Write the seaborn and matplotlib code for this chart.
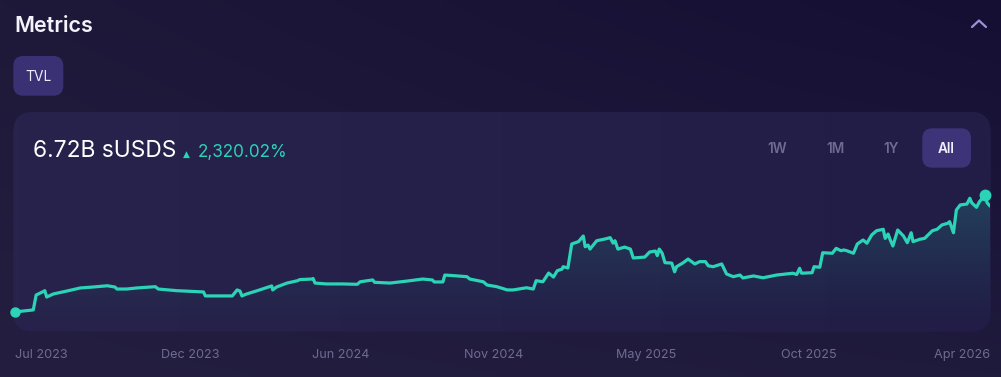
import numpy as np
import pandas as pd
import seaborn as sns
import matplotlib.pyplot as plt
import matplotlib.dates as mdates
from matplotlib.patches import FancyBboxPatch

# ------------------ DATA ------------------
start_date = "2023-07-01"

# days since start_date
day_offsets = [
    0, 19, 22, 29, 31, 33, 40, 54, 68, 81, 96, 104, 106, 116, 127, 146, 149, 168,
    196, 198, 226, 231, 234, 236, 241, 252, 265, 267, 268, 272, 283, 294, 296, 309,
    310, 312, 324, 341, 356, 359, 372, 374, 390, 408, 424, 434, 436, 445, 447, 458,
    470, 473, 487, 491, 501, 512, 518, 532, 539, 542, 549, 555, 560, 564, 569, 570,
    575, 579, 586, 591, 593, 596, 598, 605, 614, 619, 622, 624, 627, 634, 640, 643,
    655, 660, 666, 668, 670, 673, 676, 683, 686, 688, 695, 700, 707, 712, 718, 721,
    726, 735, 740, 747, 754, 757, 768, 778, 792, 809, 813, 816, 818, 829, 831, 837,
    840, 850, 854, 859, 862, 865, 872, 876, 882, 886, 891, 896, 903, 905, 908, 910,
    913, 918, 924, 928, 932, 934, 941, 946, 954, 959, 964, 970, 972, 976, 979, 983,
    990, 993, 995, 1000, 1003, 1009, 1011, 1014,
]

# TVL in billions of sUSDS
tvl_billions = [
    0.28, 0.39, 1.21, 1.39, 1.45, 1.10, 1.27, 1.43, 1.60, 1.65, 1.72, 1.65, 1.54, 1.54,
    1.60, 1.67, 1.54, 1.45, 1.38, 1.16, 1.16, 1.49, 1.43, 1.16, 1.27, 1.45, 1.67, 1.71,
    1.49, 1.65, 1.87, 2.00, 2.06, 2.09, 2.12, 1.87, 1.82, 1.82, 1.80, 1.94, 2.04, 1.91,
    1.87, 1.98, 2.09, 2.04, 1.93, 1.93, 2.31, 2.27, 2.22, 2.09, 1.94, 1.76, 1.67, 1.49,
    1.49, 1.61, 1.54, 2.00, 1.94, 2.42, 2.20, 2.55, 2.64, 2.77, 2.70, 4.02, 4.15, 4.46,
    3.87, 3.96, 3.74, 4.20, 4.30, 4.37, 4.07, 4.20, 3.74, 3.85, 3.74, 3.25, 3.30, 3.58,
    3.63, 3.38, 3.74, 3.52, 2.99, 2.97, 2.49, 2.77, 2.99, 3.19, 2.92, 3.05, 3.05, 2.82,
    2.77, 2.92, 2.37, 2.22, 2.31, 2.15, 2.26, 2.16, 2.31, 2.41, 2.34, 2.68, 2.41, 2.44,
    2.77, 2.74, 3.54, 3.51, 3.78, 3.65, 3.69, 3.65, 3.51, 4.02, 4.24, 4.06, 4.52, 4.75,
    4.83, 4.33, 4.57, 4.28, 3.91, 4.79, 4.46, 4.09, 4.64, 4.15, 4.28, 4.33, 4.75, 4.83,
    5.07, 5.16, 5.25, 4.64, 5.89, 6.17, 6.22, 6.54, 6.29, 6.04, 6.35, 6.72, 6.29, 6.11,
]

tick_dates = ["2023-07-01", "2023-12-30", "2024-06-04", "2024-11-10",
              "2025-04-17", "2025-10-04", "2026-04-10"]
tick_labels = ["Jul 2023", "Dec 2023", "Jun 2024", "Nov 2024",
               "May 2025", "Oct 2025", "Apr 2026"]

title = "Metrics"
metric_tab = "TVL"
headline = "6.72B sUSDS"
change_text = "2,320.02%"
range_buttons = ["1W", "1M", "1Y", "All"]

df = pd.DataFrame({
    "Date": pd.to_datetime(start_date) + pd.to_timedelta(day_offsets, unit="D"),
    "TVL": tvl_billions,
})

# ------------------ STYLE ------------------
TEAL = "#2bd4b6"
CARD = "#24204a"
BUTTON = "#3c3378"
MUTED = "#6f6b91"

sns.set_theme(style="dark")
plt.rcParams['font.family'] = ['Inter', 'DejaVu Sans']

W, H = 1001, 377
fig = plt.figure(figsize=(W / 100, H / 100), dpi=100)
fig.patch.set_facecolor("#1c1739")

# pixel-space background axes for the page / card / buttons
bg = fig.add_axes([0, 0, 1, 1], zorder=0)
bg.axis('off')

corners = np.array([[[30, 25, 57], [21, 15, 52]],
                    [[36, 31, 64], [31, 27, 61]]]) / 255
gy, gx = np.mgrid[0:1:60j, 0:1:160j]
page = ((1 - gy)[..., None] * ((1 - gx)[..., None] * corners[0, 0] + gx[..., None] * corners[0, 1])
        + gy[..., None] * ((1 - gx)[..., None] * corners[1, 0] + gx[..., None] * corners[1, 1]))
bg.imshow(page, extent=[0, W, H, 0], aspect='auto', interpolation='bilinear', zorder=0)

card = FancyBboxPatch((13.3, 112), 977.2, 219.5, boxstyle="round,pad=0,rounding_size=20",
                      facecolor=CARD, edgecolor='none', zorder=1)
bg.add_patch(card)
card_grad = np.linspace(0, 1, 200)[None, :, None]
card_rgb = (1 - card_grad) * np.array([39, 35, 76]) / 255 + card_grad * np.array([33, 29, 70]) / 255
img = bg.imshow(card_rgb, extent=[13.3, 990.5, 331.5, 112], aspect='auto', zorder=1.5)
img.set_clip_path(card)

tab = FancyBboxPatch((13.3, 56), 50, 39.7, boxstyle="round,pad=0,rounding_size=10",
                     facecolor="#3a3174", edgecolor='none', zorder=2)
bg.add_patch(tab)
all_btn = FancyBboxPatch((922.3, 128.3), 48.7, 39.4, boxstyle="round,pad=0,rounding_size=10",
                         facecolor=BUTTON, edgecolor='none', zorder=2)
bg.add_patch(all_btn)

bg.text(14, 31.7, title, fontsize=15.5, fontweight='semibold', color="#f4f3fb",
        ha='left', va='baseline', zorder=3)
bg.text(38.3, 81, metric_tab, fontsize=10, color="#ecebf7", ha='center', va='baseline', zorder=3)
bg.text(33, 156.7, headline, fontsize=16.4, color="#ffffff", ha='left', va='baseline', zorder=3)
bg.text(182.5, 156.5, "▲", fontsize=6.5, color=TEAL, family='DejaVu Sans',
        ha='left', va='baseline', zorder=3)
bg.text(198, 156.7, change_text, fontsize=12.3, color=TEAL, ha='left', va='baseline', zorder=3)

for label, cx in zip(range_buttons, [777.3, 835.7, 890.7, 946.6]):
    bg.text(cx, 152.7, label, fontsize=9.8, fontweight='semibold',
            color="#f2f1fa" if label == "All" else MUTED,
            ha='center', va='baseline', zorder=3)

bg.plot([972, 979, 986], [27, 20.5, 27], color="#9a93d6", lw=1.6, zorder=3)

bg.set_xlim(0, W)
bg.set_ylim(H, 0)

# ------------------ PLOT ------------------
ax = fig.add_axes([15 / W, (H - 330) / H, (990 - 15) / W, 150 / H], zorder=2)
ax.patch.set_alpha(0)

sns.lineplot(data=df, x="Date", y="TVL", ax=ax, color=TEAL, linewidth=2.3, zorder=4)

y0, y1 = -0.716, 7.544
xnum = mdates.date2num(df["Date"])

# soft gradient under the line
poly = ax.fill_between(xnum, df["TVL"], y0, facecolor='none', edgecolor='none')
n = 256
rgba = np.zeros((n, 1, 4))
rgba[..., :3] = np.array([43, 212, 182]) / 255
rgba[..., 3] = np.linspace(0, 0.2, n)[:, None] ** 1.3 / 0.2 ** 0.3
fill = ax.imshow(rgba, extent=[xnum[0], xnum[-1], y0, df["TVL"].max()], origin='lower',
                 aspect='auto', zorder=2)
fill.set_clip_path(poly.get_paths()[0], transform=ax.transData)

# start point and peak marker
peak = df["TVL"].idxmax()
ax.plot(df["Date"].iloc[[0]], df["TVL"].iloc[[0]], 'o', ms=6.5, color=TEAL, clip_on=False, zorder=5)
ax.plot(df["Date"].iloc[[peak]], df["TVL"].iloc[[peak]], 'o', ms=7.5, color=TEAL, clip_on=False, zorder=5)

ax.set_xlim(df["Date"].iloc[0], df["Date"].iloc[-1])
ax.set_ylim(y0, y1)

ax.set_xticks(pd.to_datetime(tick_dates))
ax.set_xticklabels(tick_labels, fontsize=9.1, color=MUTED)
labels = ax.get_xticklabels()
labels[0].set_ha('left')
labels[-1].set_ha('right')
ax.tick_params(axis='x', length=0, pad=13.5)
ax.set_yticks([])
ax.set_xlabel('')
ax.set_ylabel('')
ax.grid(False)
for s in ax.spines.values():
    s.set_visible(False)

fig.savefig("out.png", dpi=100, facecolor=fig.get_facecolor())
plt.close()
